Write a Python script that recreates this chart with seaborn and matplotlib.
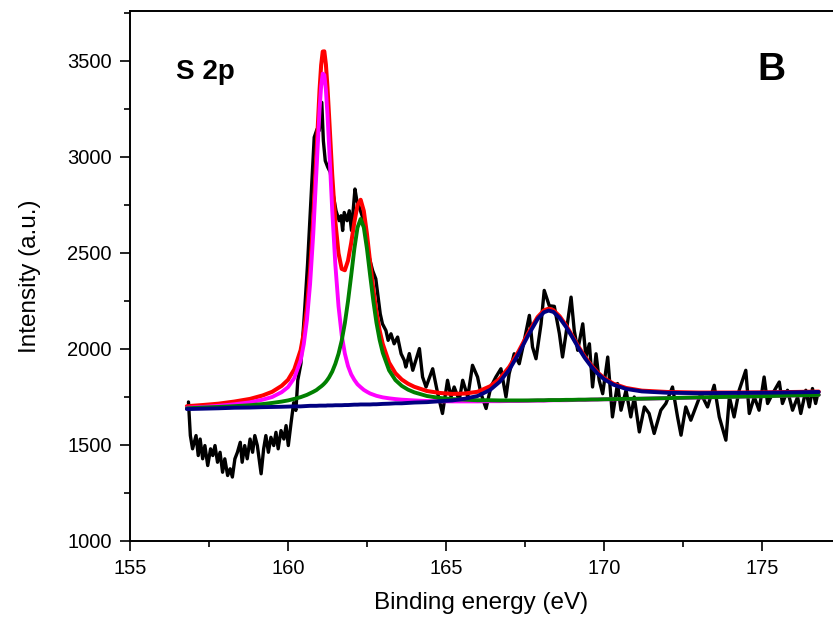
import matplotlib
matplotlib.use("Agg")
import matplotlib.pyplot as plt
import seaborn as sns
import numpy as np
from matplotlib.ticker import MultipleLocator

# ---- measured S 2p spectrum (binding energy in eV, counts) ----
be = [156.85, 156.91, 156.98, 157.09, 157.16, 157.22, 157.30, 157.37, 157.46, 157.55,
      157.62, 157.69, 157.77, 157.85, 157.93, 158.00, 158.09, 158.17, 158.24, 158.32,
      158.40, 158.49, 158.55, 158.63, 158.71, 158.80, 158.88, 158.95, 159.03, 159.15,
      159.23, 159.30, 159.38, 159.46, 159.55, 159.62, 159.69, 159.78, 159.87, 159.94,
      160.01, 160.10, 160.18, 160.25, 160.31, 160.41, 160.52, 160.62, 160.73, 160.83,
      160.92, 160.99, 161.07, 161.12, 161.18, 161.26, 161.34, 161.41, 161.52, 161.62,
      161.68, 161.73, 161.78, 161.87, 161.94, 162.01, 162.08, 162.12, 162.18, 162.26,
      162.36, 162.47, 162.57, 162.68, 162.78, 162.84, 162.92, 162.99, 163.10, 163.17,
      163.26, 163.36, 163.47, 163.58, 163.68, 163.73, 163.84, 163.95, 164.16, 164.26,
      164.37, 164.58, 164.74, 164.89, 165.05, 165.16, 165.26, 165.42, 165.53, 165.69,
      165.84, 166.00, 166.11, 166.27, 166.42, 166.58, 166.74, 166.90, 167.00, 167.16,
      167.32, 167.48, 167.64, 167.74, 167.85, 168.01, 168.11, 168.27, 168.43, 168.59,
      168.69, 168.80, 168.96, 169.06, 169.17, 169.33, 169.43, 169.54, 169.64, 169.75,
      169.85, 169.96, 170.12, 170.27, 170.43, 170.54, 170.70, 170.85, 170.96, 171.12,
      171.28, 171.43, 171.59, 171.80, 171.96, 172.17, 172.33, 172.44, 172.59, 172.75,
      172.91, 173.07, 173.28, 173.49, 173.65, 173.86, 173.97, 174.12, 174.28, 174.49,
      174.60, 174.76, 174.91, 175.07, 175.18, 175.34, 175.55, 175.65, 175.81, 175.97,
      176.13, 176.23, 176.39, 176.50, 176.60, 176.70, 176.78]
counts = [1724, 1549, 1480, 1549, 1445, 1531, 1428, 1497, 1393, 1480,
          1445, 1497, 1410, 1462, 1358, 1428, 1341, 1376, 1333, 1428,
          1462, 1514, 1410, 1497, 1428, 1531, 1462, 1549, 1497, 1350,
          1480, 1549, 1462, 1540, 1497, 1566, 1480, 1575, 1531, 1601,
          1497, 1618, 1720, 1680, 1837, 1924, 2184, 2443, 2790, 3102,
          3145, 3137, 3284, 3084, 2980, 2946, 2920, 2824, 2720, 2668,
          2694, 2617, 2711, 2668, 2720, 2617, 2755, 2833, 2772, 2737,
          2686, 2582, 2478, 2408, 2365, 2287, 2183, 2131, 2096, 2045,
          2079, 2027, 2062, 1975, 1941, 1906, 1976, 1889, 2002, 1854,
          1802, 1897, 1767, 1664, 1837, 1750, 1802, 1733, 1837, 1750,
          1915, 1854, 1767, 1690, 1802, 1854, 1897, 1750, 1871, 1975,
          1923, 2045, 2175, 2010, 1949, 2131, 2305, 2225, 2222, 2080,
          1958, 2080, 2270, 2097, 1993, 2131, 1958, 2027, 1802, 1975,
          1837, 1767, 1958, 1646, 1820, 1681, 1785, 1646, 1750, 1568,
          1698, 1664, 1560, 1681, 1716, 1802, 1646, 1551, 1698, 1629,
          1698, 1768, 1698, 1811, 1646, 1525, 1750, 1646, 1785, 1889,
          1664, 1750, 1681, 1854, 1716, 1768, 1828, 1716, 1785, 1681,
          1750, 1664, 1785, 1698, 1794, 1716, 1776]

# ---- peak fit: energy grid, linear background and component heights above it ----
fit_be = [156.8, 157.3, 157.8, 158.3, 158.8, 159.2, 159.5, 159.8, 160.0, 160.2,
          160.4, 160.5, 160.6, 160.7, 160.8, 160.9, 161.0, 161.05, 161.1, 161.15,
          161.2, 161.25, 161.3, 161.4, 161.5, 161.6, 161.7, 161.8, 161.9, 162.0,
          162.1, 162.2, 162.3, 162.4, 162.5, 162.6, 162.7, 162.8, 162.9, 163.0,
          163.2, 163.4, 163.6, 163.8, 164.0, 164.4, 164.8, 165.2, 165.6, 166.0,
          166.4, 166.7, 167.0, 167.3, 167.6, 167.9, 168.1, 168.25, 168.4, 168.6,
          168.8, 169.0, 169.2, 169.4, 169.6, 169.8, 170.0, 170.3, 170.7, 171.2,
          172.0, 173.0, 174.0, 175.0, 176.0, 176.8]
background = [1685, 1687, 1689, 1691, 1692, 1694, 1695, 1696, 1697, 1698,
              1698, 1699, 1699, 1700, 1700, 1700, 1701, 1701, 1701, 1701,
              1701, 1702, 1702, 1702, 1703, 1703, 1703, 1704, 1704, 1704,
              1705, 1705, 1706, 1706, 1706, 1706, 1707, 1707, 1708, 1708,
              1709, 1710, 1710, 1711, 1712, 1713, 1715, 1716, 1718, 1719,
              1721, 1722, 1723, 1724, 1725, 1727, 1727, 1728, 1729, 1729,
              1730, 1731, 1732, 1732, 1733, 1734, 1735, 1736, 1737, 1739,
              1742, 1746, 1750, 1753, 1757, 1760]
# S 2p3/2 (sulfide, ~161.1 eV)
peak_s1 = [9, 11, 15, 21, 30, 42, 55, 79, 104, 151,
           242, 326, 452, 639, 899, 1223, 1548, 1669, 1733, 1726,
           1649, 1519, 1359, 1022, 734, 519, 370, 272, 207, 164,
           134, 111, 95, 81, 71, 62, 55, 49, 44, 40,
           34, 29, 26, 23, 20, 16, 13, 11, 9, 8,
           7, 6, 6, 5, 5, 4, 4, 4, 4, 4,
           3, 3, 3, 3, 3, 3, 3, 2, 2, 2,
           2, 1, 1, 1, 1, 1]
# S 2p1/2 (~162.3 eV)
peak_s2 = [6, 8, 9, 11, 15, 19, 24, 30, 35, 42,
           51, 56, 62, 69, 77, 86, 98, 104, 111, 119,
           128, 138, 150, 180, 220, 272, 340, 430, 545, 678,
           816, 927, 971, 927, 816, 678, 545, 430, 340, 272,
           180, 128, 98, 77, 62, 42, 30, 23, 18, 14,
           12, 10, 9, 8, 7, 6, 6, 6, 5, 5,
           5, 4, 4, 4, 4, 3, 3, 3, 3, 2,
           2, 2, 1, 1, 1, 1]
# sulfate (~168.3 eV)
peak_s3 = [2, 2, 2, 3, 3, 3, 3, 3, 3, 3,
           3, 3, 4, 4, 4, 4, 4, 4, 4, 4,
           4, 4, 4, 4, 4, 4, 4, 4, 4, 5,
           5, 5, 5, 5, 5, 5, 5, 5, 5, 6,
           6, 7, 7, 8, 9, 10, 13, 16, 23, 36,
           66, 107, 168, 251, 345, 429, 464, 472, 464, 432,
           385, 330, 272, 220, 175, 138, 108, 78, 55, 40,
           30, 24, 21, 19, 17, 16]

bg = np.array(background, dtype=float)
s1 = bg + np.array(peak_s1)
s2 = bg + np.array(peak_s2)
s3 = bg + np.array(peak_s3)
envelope = bg + np.array(peak_s1) + np.array(peak_s2) + np.array(peak_s3)

sns.set_style("ticks")
plt.rcParams["font.family"] = ["Liberation Sans", "DejaVu Sans"]
plt.rcParams["text.color"] = "black"
plt.rcParams["axes.labelcolor"] = "black"
plt.rcParams["xtick.color"] = "black"
plt.rcParams["ytick.color"] = "black"

fig = plt.figure(figsize=(8.33, 6.22), dpi=100)
ax = fig.add_axes([130 / 833, 81 / 622, 703 / 833, 530 / 622])

line_kw = dict(ax=ax, estimator=None, sort=False, legend=False)
sns.lineplot(x=be, y=counts, color="black", linewidth=2.4, **line_kw)
sns.lineplot(x=fit_be, y=envelope, color="#ff0000", linewidth=2.9, **line_kw)
sns.lineplot(x=fit_be, y=s1, color="#ff00ff", linewidth=2.8, **line_kw)
sns.lineplot(x=fit_be, y=s2, color="#008000", linewidth=2.8, **line_kw)
sns.lineplot(x=fit_be, y=s3, color="#000080", linewidth=2.8, **line_kw)
for ln in ax.get_lines():
    ln.set_solid_joinstyle("round")
    ln.set_solid_capstyle("round")

ax.set_xlim(155, 177.25)
ax.set_ylim(1000, 3760)
ax.xaxis.set_major_locator(MultipleLocator(5))
ax.xaxis.set_minor_locator(MultipleLocator(2.5))
ax.yaxis.set_major_locator(MultipleLocator(500))
ax.yaxis.set_minor_locator(MultipleLocator(250))
ax.tick_params(which="major", direction="out", length=7, width=1.2,
               labelsize=14.5, pad=6, color="black", labelcolor="black")
ax.tick_params(which="minor", direction="out", length=4, width=1.2, color="black")
ax.spines["right"].set_visible(False)
for side in ("left", "top", "bottom"):
    ax.spines[side].set_linewidth(1.4)
    ax.spines[side].set_color("black")

ax.set_xlabel("Binding energy (eV)", fontsize=17.5, color="black")
ax.set_ylabel("Intensity (a.u.)", fontsize=17.5, color="black")
ax.xaxis.set_label_coords(0.5, -0.097)
ax.yaxis.set_label_coords(-0.127, 0.5)

ax.text(0.065, 0.872, "S 2p", transform=ax.transAxes, fontsize=20,
        fontweight="bold", va="baseline", ha="left", color="black")
ax.text(0.892, 0.870, "B", transform=ax.transAxes, fontsize=28,
        fontweight="bold", va="baseline", ha="left", color="black")

fig.savefig("out.png", dpi=100, facecolor="white")
